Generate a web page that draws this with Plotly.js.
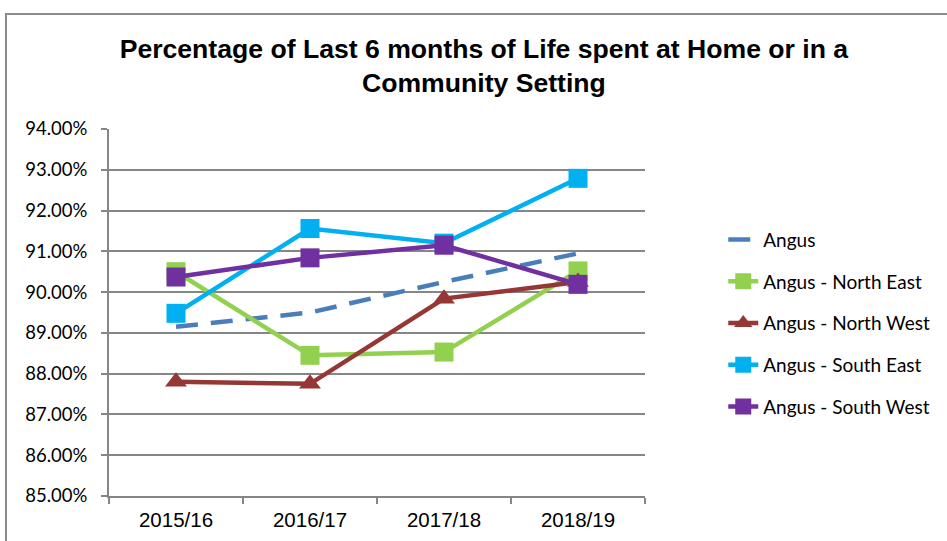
<!DOCTYPE html>
<html>
<head>
<meta charset="utf-8">
<script src="https://cdn.plot.ly/plotly-3.0.1.min.js"></script>
<style>
  html, body { margin: 0; padding: 0; background: #fff; }
  #wrap { position: relative; width: 947px; height: 541px; overflow: hidden; }
  #frame { position: absolute; left: 5px; top: 13px; width: 960px; height: 560px;
           border-top: 2px solid #8c8c8c; border-left: 2px solid #8c8c8c; pointer-events: none; }
  #chart { position: absolute; left: 0; top: 0; width: 947px; height: 541px; }
</style>
</head>
<body>
<div id="wrap">
  <div id="chart"></div>
  <div id="frame"></div>
</div>
<script>
const years = ["2015/16", "2016/17", "2017/18", "2018/19"];
const angus = [89.15, 89.50, 90.25, 90.95];
const northEast = [90.50, 88.45, 88.53, 90.52];
const northWest = [87.80, 87.75, 89.84, 90.25];
const southEast = [89.48, 91.56, 91.20, 92.79];
const southWest = [90.37, 90.84, 91.15, 90.19];
const seriesNames = ["Angus", "Angus - North East", "Angus - North West", "Angus - South East", "Angus - South West"];

const traces = [
  { x: years, y: angus, name: seriesNames[0], mode: "lines",
    line: { color: "#4A7EBB", width: 4.5, dash: "22px,13px" } },
  { x: years, y: northEast, name: seriesNames[1], mode: "lines+markers",
    line: { color: "#92D050", width: 4.5 },
    marker: { symbol: "square", size: 19, color: "#92D050" } },
  { x: years, y: northWest, name: seriesNames[2], mode: "lines+markers",
    line: { color: "#953735", width: 4.5 },
    marker: { symbol: "triangle-up", size: 19, color: "#953735" } },
  { x: years, y: southEast, name: seriesNames[3], mode: "lines+markers",
    line: { color: "#00B0F0", width: 4.5 },
    marker: { symbol: "square", size: 19, color: "#00B0F0" } },
  { x: years, y: southWest, name: seriesNames[4], mode: "lines+markers",
    line: { color: "#7030A0", width: 4.5 },
    marker: { symbol: "square", size: 19, color: "#7030A0" } }
];
traces.forEach((t, i) => { t.legendgroup = "g" + i; });

const layout = {
  width: 947, height: 541,
  margin: { l: 109, r: 302, t: 129, b: 45 },
  paper_bgcolor: "#ffffff", plot_bgcolor: "#ffffff",
  title: {
    text: "<b>Percentage of Last 6 months of Life spent at Home or in a<br>Community Setting</b>",
    font: { family: "Liberation Sans, Arial, sans-serif", size: 26.6, color: "#000" },
    x: 0.511, xanchor: "center", y: 0.893, yanchor: "middle"
  },
  xaxis: {
    type: "category", tickson: "boundaries", range: [-0.5, 3.5],
    showline: true, linecolor: "#868686", linewidth: 2,
    ticks: "outside", ticklen: 6, tickcolor: "#868686", tickwidth: 2,
    showgrid: false, zeroline: false,
    tickfont: { family: "Liberation Sans, Arial, sans-serif", size: 20.5, color: "#000" },
    ticklabelstandoff: 4
  },
  yaxis: {
    range: [85, 94], dtick: 1, tick0: 85,
    tickformat: ".2f", ticksuffix: "%",
    showline: true, linecolor: "#868686", linewidth: 2,
    ticks: "outside", ticklen: 6, tickcolor: "#868686", tickwidth: 2,
    showgrid: true, gridcolor: "#868686", gridwidth: 2, zeroline: false,
    tickfont: { family: "Lato, Carlito, sans-serif", size: 18.5, color: "#000" },
    ticklabelstandoff: 10
  },
  showlegend: true,
  legend: {
    x: 1.146, xanchor: "left", y: 0.75, yanchor: "top",
    font: { family: "Lato, Carlito, sans-serif", size: 19, color: "#000" },
    tracegroupgap: 14, bgcolor: "rgba(0,0,0,0)", itemwidth: 30
  }
};

Plotly.newPlot("chart", traces, layout, { displayModeBar: false, staticPlot: true });
</script>
</body>
</html>
